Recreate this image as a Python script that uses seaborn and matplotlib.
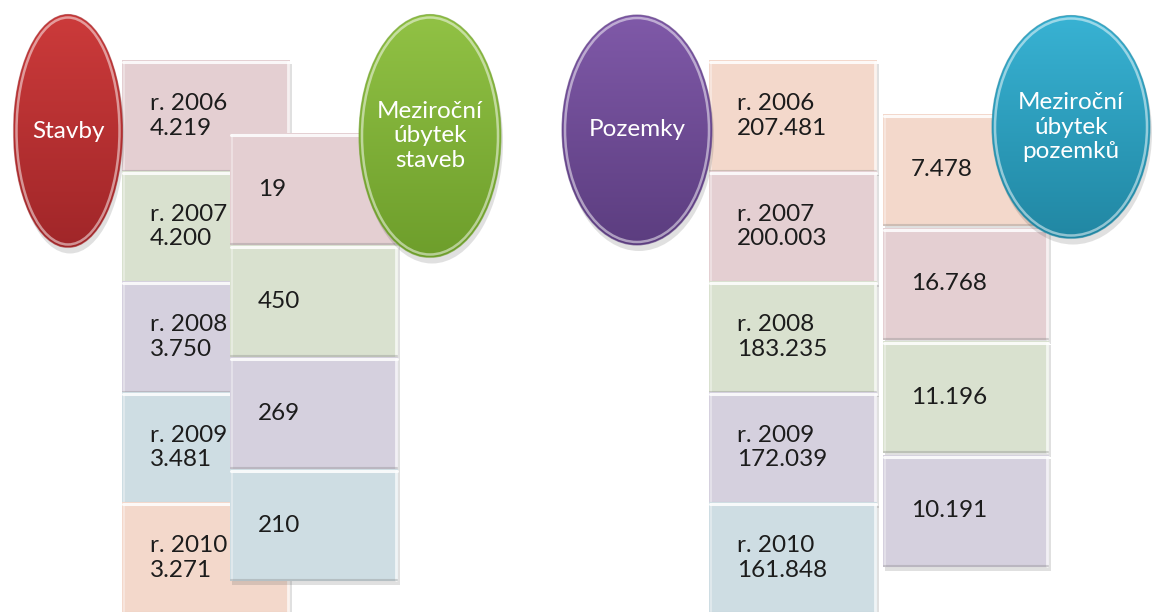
import numpy as np
import seaborn as sns
import matplotlib.pyplot as plt
from matplotlib.patches import Ellipse, Rectangle

# data
years = ["2006", "2007", "2008", "2009", "2010"]
stavby = [4219, 4200, 3750, 3481, 3271]
ubytek_staveb = [19, 450, 269, 210]
pozemky = [207481, 200003, 183235, 172039, 161848]
ubytek_pozemku = [7478, 16768, 11196, 10191]

# colours
pink = "#e4cfd2"
green = "#d9e1cf"
lavender = "#d5d0de"
blue = "#cedde3"
peach = "#f3d8cb"
stavby_colors = [pink, green, lavender, blue, peach]
ubytek_staveb_colors = [pink, green, lavender, blue]
pozemky_colors = [peach, pink, green, lavender, blue]
ubytek_pozemku_colors = [peach, pink, green, lavender]

sns.set_theme(style="white")
plt.rcParams["font.family"] = ["Lato", "DejaVu Sans"]

FS = 17.5


def fmt(v):
    return f"{v:,}".replace(",", ".")


def box(ax, x, y, w, h, color, text, z):
    ax.add_patch(Rectangle((x + 2, y + 4), w, h, fc="#555555", alpha=0.18, lw=0, zorder=z))
    ax.add_patch(Rectangle((x, y), w, h, fc=color, ec="none", zorder=z + 0.1))
    # bevel
    ax.plot([x + 1, x + w - 1], [y + 2, y + 2], color="white", alpha=0.85, lw=2.2, zorder=z + 0.2)
    ax.plot([x + w - 2, x + w - 2], [y + 2, y + h - 1], color="white", alpha=0.7, lw=2.0, zorder=z + 0.2)
    ax.plot([x + 2, x + 2], [y + 2, y + h - 1], color="white", alpha=0.35, lw=1.5, zorder=z + 0.2)
    ax.plot([x + 1, x + w - 1], [y + h - 1, y + h - 1], color="#888888", alpha=0.35, lw=1.5, zorder=z + 0.2)
    ax.text(x + 28, y + h / 2, text, fontsize=FS, color="#1c1c1c", ha="left", va="center",
            linespacing=1.2, zorder=z + 0.3)


def oval(ax, cx, cy, w, h, top, bottom, text, z=50):
    ax.add_patch(Ellipse((cx + 2, cy + 6), w, h, fc="#333333", alpha=0.15, lw=0, zorder=z))
    clip = Ellipse((cx, cy), w, h, fc="none", ec="none", zorder=z + 0.1)
    ax.add_patch(clip)
    t = np.linspace(0, 1, 200)[:, None, None]
    grad = (1 - t) * np.array(top)[None, None, :] + t * np.array(bottom)[None, None, :]
    im = ax.imshow(grad, extent=(cx - w / 2, cx + w / 2, cy + h / 2, cy - h / 2),
                   origin="upper", aspect="auto", zorder=z + 0.2, interpolation="bilinear")
    im.set_clip_path(clip)
    # glossy rim
    ax.add_patch(Ellipse((cx, cy), w - 6, h - 6, fc="none", ec="white", alpha=0.5, lw=1.8, zorder=z + 0.3))
    ax.add_patch(Ellipse((cx, cy), w, h, fc="none", ec=bottom, alpha=0.6, lw=0.8, zorder=z + 0.3))
    ax.text(cx, cy, text, fontsize=FS, color="white", ha="center", va="center",
            linespacing=1.2, zorder=z + 0.4)


fig = plt.figure(figsize=(11.55, 6.12), dpi=100)
ax = fig.add_axes([0, 0, 1, 1])

# Stavby
for i, (yr, v, c) in enumerate(zip(years, stavby, stavby_colors)):
    box(ax, 122, 60 + i * 110.5, 168, 112, c, f"r. {yr}\n{fmt(v)}", 1 + i)
for i, (v, c) in enumerate(zip(ubytek_staveb, ubytek_staveb_colors)):
    box(ax, 230, 133 + i * 112, 168, 112, c, fmt(v), 10 + i)
oval(ax, 68, 131, 109, 233, (0.80, 0.23, 0.23), (0.63, 0.15, 0.16), "Stavby")
oval(ax, 430, 136, 142, 243, (0.57, 0.76, 0.27), (0.43, 0.62, 0.17), "Meziroční\núbytek\nstaveb")

# Pozemky
for i, (yr, v, c) in enumerate(zip(years, pozemky, pozemky_colors)):
    box(ax, 709, 60 + i * 110.5, 168, 112, c, f"r. {yr}\n{fmt(v)}", 1 + i)
for i, (v, c) in enumerate(zip(ubytek_pozemku, ubytek_pozemku_colors)):
    box(ax, 883, 114 + i * 113.5, 166, 112, c, fmt(v), 10 + i)
oval(ax, 637, 130, 150, 230, (0.50, 0.35, 0.66), (0.36, 0.24, 0.50), "Pozemky")
oval(ax, 1071, 127, 158, 223, (0.22, 0.70, 0.83), (0.13, 0.53, 0.64), "Meziroční\núbytek\npozemků")

ax.set_xlim(0, 1155)
ax.set_ylim(612, 0)
ax.axis("off")
fig.savefig("out.png", dpi=100)
